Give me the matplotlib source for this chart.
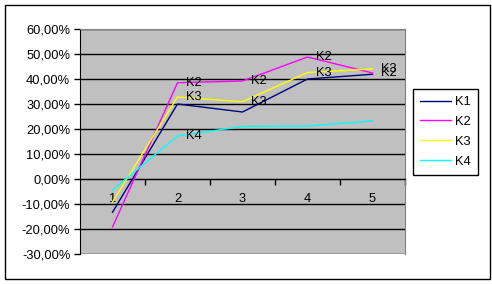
import matplotlib.pyplot as plt
from matplotlib.patches import Rectangle
from matplotlib.ticker import FuncFormatter, FixedLocator

# data
categories = [1, 2, 3, 4, 5]
k1 = [-13.3, 30.0, 26.8, 40.0, 41.9]
k2 = [-19.2, 38.5, 39.2, 48.8, 42.4]
k3 = [-9.2, 32.8, 30.9, 42.6, 44.0]
k4 = [-4.4, 17.2, 21.0, 21.2, 23.2]
names = ['K1', 'K2', 'K3', 'K4']
colors = ['#000080', '#FF00FF', '#FFFF00', '#00FFFF']
# which series get point labels, and at which points
label_points = {'K2': [1, 2, 3, 4], 'K3': [1, 2, 3, 4], 'K4': [1]}

fs = 9.3
plt.rcParams['font.family'] = ['Liberation Sans', 'DejaVu Sans']
fig = plt.figure(figsize=(4.92, 2.84), dpi=100)
fig.patch.set_facecolor('white')
# outer chart border
fig.add_artist(Rectangle((5/492, 5/284), 485/492, 274/284, transform=fig.transFigure,
                         fill=False, edgecolor='black', lw=1))

ax = fig.add_axes([80/492, 30/284, 325/492, 225/284])
ax.set_facecolor('#C0C0C0')

series = [k1, k2, k3, k4]
for name, vals, c in zip(names, series, colors):
    ax.plot(categories, [v/100 for v in vals], color=c, lw=1, label=name, zorder=3)
    for i in label_points.get(name, []):
        ax.annotate(name, (categories[i], vals[i]/100), xytext=(6, 0),
                    textcoords='offset points', va='center', ha='left',
                    fontsize=fs, color='black', zorder=4)

ax.set_xlim(0.5, 5.5)
ax.set_ylim(-0.30, 0.60)
ax.yaxis.set_major_locator(FixedLocator([i/10 for i in range(-3, 7)]))
ax.yaxis.set_major_formatter(FuncFormatter(lambda v, p: ('%.2f%%' % (v*100)).replace('.', ',')))
ax.grid(axis='y', color='black', lw=1, zorder=1)
ax.tick_params(axis='y', direction='out', length=4, width=1, labelsize=fs, pad=3)

# category axis crossing at zero
ax.spines['bottom'].set_position(('data', 0))
ax.spines['bottom'].set_color('black')
ax.spines['left'].set_color('black')
ax.spines['top'].set_color('#808080')
ax.spines['right'].set_color('#808080')
ax.set_xticks([1.5, 2.5, 3.5, 4.5, 5.5])
ax.set_xticklabels([])
ax.tick_params(axis='x', direction='out', length=4, width=1)
ax.set_xticks(categories, minor=True)
ax.set_xticklabels([str(c) for c in categories], minor=True)
ax.tick_params(axis='x', which='minor', length=0, labelsize=fs, pad=10)

leg = fig.legend(loc='upper left', bbox_to_anchor=(413/492, 1 - 89/284), fontsize=fs,
                 frameon=True, fancybox=False, edgecolor='black', framealpha=1,
                 handlelength=2.4, handletextpad=0.3, labelspacing=0.6,
                 borderpad=0.55, borderaxespad=0)
leg.get_frame().set_linewidth(1)

fig.savefig('out.png', dpi=100)
